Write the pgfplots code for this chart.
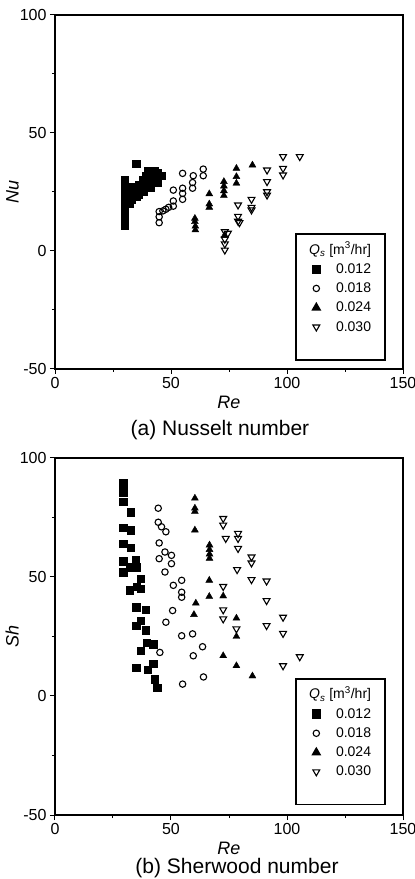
\documentclass[border=0pt]{standalone}
\usepackage{fontspec}
\setmainfont{Liberation Sans}
\usepackage{pgfplots}
\pgfplotsset{compat=1.18}
\pgfplotsset{
 myax/.style={
  anchor=south west,
  scale only axis, width=348pt,
  xmin=0,xmax=150, ymin=-50,ymax=100,
  xtick={0,50,100,150}, ytick={-50,0,50,100},
  minor tick num=1,
  tick align=outside, tick pos=left,
  major tick length=5pt, minor tick length=3pt,
  axis line style={line width=1.4pt},
  every tick/.style={black, line width=1pt},
  tick label style={font=\fontsize{16}{16}\selectfont},
  /pgf/number format/assume math mode=true,
  xlabel style={font=\fontsize{18}{18}\selectfont},
  ylabel style={font=\fontsize{18}{18}\selectfont, yshift=-6pt},
  legend cell align=right,
  legend style={at={(axis cs:103.4,7.6)}, anchor=north west, draw=black, line width=1.8pt,
    fill=white, font=\fontsize{14}{16}\selectfont, inner xsep=12pt, inner ysep=6pt,
    row sep=4pt, column sep=14pt},
 },
 s1/.style={only marks, mark=square*, mark size=3.7pt, black},
 s2/.style={only marks, mark=o, mark size=3.2pt, black, mark options={fill=white, line width=1.1pt}},
 s3/.style={only marks, mark=triangle*, mark size=4pt, black},
 s4/.style={only marks, mark=triangle, mark size=4pt, black, mark options={rotate=180, fill=white, line width=1.1pt}},
}
\newcommand{\legtitle}{\makebox[34pt][r]{\textit{Q}\textsubscript{\textit{s}} [m\textsuperscript{3}/hr]}}
\begin{document}
\begin{tikzpicture}[x=1pt,y=1pt]
\path[use as bounding box] (0pt,0pt) rectangle (415pt,879pt);
% ---------- (a) Nusselt ----------
\begin{axis}[myax, at={(55pt,510pt)}, height=354pt, xlabel={\textit{Re}}, ylabel={\textit{Nu}}]
\addlegendimage{empty legend}\addlegendentry{\legtitle}
\addplot[s1] coordinates {(30,11)(30,13)(30,16)(30,19)(30,22)(30,25)(30,28)(30,30)(31,21)(32,20)(32,24)(33,22)(33,27)(34,25)(35,37)(35,23)(36,24)(36,28)(37,26)(38,30)(38,25)(39,32)(39,28)(40,34)(40,30)(41,27)(42,33)(42,30)(43,34)(43,31)(44,33)(45,32)(44,29)(46,32)};
\addlegendentry{0.012}
\addplot[s2] coordinates {(44.9,12)(44.9,14.5)(44.9,16.7)(46.5,17)(47.8,17.7)(49,18.5)(51,19)(51,21.2)(51,25.8)(55,21.9)(55,24.4)(55,26.6)(55,32.9)(59.3,26.6)(59.3,29)(59.6,31.9)(63.9,31.9)(63.9,34.7)};
\addlegendentry{0.018}
\addplot[s3] coordinates {(60.3,13.8)(60.3,12.4)(60.5,8.9)(60.5,10.5)(66.5,24.2)(66.5,19.9)(66.5,18.5)(72.8,29.4)(72.8,27.5)(72.8,25.5)(72.8,23.5)(73,6.5)(78.2,35)(78.2,31.5)(78.2,28.7)(85.1,36.4)};
\addlegendentry{0.024}
\addplot[s4] coordinates {(73.2,8.2)(73.2,5)(73.2,3)(73.2,0.4)(74.5,7.5)(78.9,19.5)(78.9,14.7)(78.9,12.6)(79.5,12)(84.7,21.9)(84.7,17.4)(84.7,18.5)(91.4,34.3)(91.4,29.4)(91.4,25.1)(91.4,23.7)(98.3,40)(98.3,35)(98.3,32.2)(105.5,40)};
\addlegendentry{0.030}
\addlegendimage{empty legend}\addlegendentry{}
\addlegendimage{empty legend}\addlegendentry{}
\end{axis}
\node[font=\fontsize{21}{21}\selectfont] at (220pt,449pt) {(a) Nusselt number};
% ---------- (b) Sherwood ----------
\begin{axis}[myax, at={(55pt,64pt)}, height=357pt, xlabel={\textit{Re}}, ylabel={\textit{Sh}}]
\addlegendimage{empty legend}\addlegendentry{\legtitle}
\addplot[s1] coordinates {(29.4,89.5)(29.4,87.4)(29.4,85.3)(29.4,81.7)(32.6,77.2)(29.4,70.8)(32.6,69.7)(29.4,64.1)(32.6,62.4)(29.4,56.7)(34.9,57.3)(29.4,52.1)(32.3,54.2)(35.2,54.2)(36.9,49.3)(32.3,44.4)(35.2,45.8)(36.9,45)(35,37.3)(39.2,36.2)(35,29.6)(36.9,31.7)(39.2,27.6)(36.9,19)(39.5,22.5)(42.3,21.8)(42.3,13.6)(35,12)(40,11)(43,7)(44,3.5)};
\addlegendentry{0.012}
\addplot[s2] coordinates {(44.5,78.9)(44.5,73)(45.9,71.1)(47.8,69)(44.9,64.3)(47.4,60.5)(44.9,57.7)(50.2,59.1)(50.2,55.6)(47.4,52.1)(51,46.5)(54.6,48.6)(54.6,43.6)(54.6,41.5)(50.7,35.9)(47.8,31)(54.6,25.3)(59.3,26.1)(63.6,20.7)(59.6,16.9)(45.2,18.3)(55,5)(64,8)};
\addlegendentry{0.018}
\addplot[s3] coordinates {(60.3,83.1)(60.3,78.9)(60.3,77.5)(60.3,69.7)(66.6,63.4)(66.6,61.5)(66.6,59.6)(66.6,57.8)(66.5,48.6)(66.5,41.8)(60.7,39)(59.9,34.2)(72.5,42)(78.2,32.7)(78.2,25)(72.5,16.9)(78.2,12.7)(85.1,8.4)};
\addlegendentry{0.024}
\addplot[s4] coordinates {(72.5,74.6)(72.5,71.8)(73.6,66.2)(78.9,68.3)(78.9,66.2)(78.9,62)(84.7,58.4)(84.7,55.9)(78.5,53.1)(84.7,48.9)(91.2,48.3)(91.2,40.1)(72.5,46)(72.5,36.2)(72.5,32.4)(78.2,28.2)(91.2,29.6)(98.3,33.1)(98.3,26.3)(105.5,16.5)(98.3,12.7)};
\addlegendentry{0.030}
\addlegendimage{empty legend}\addlegendentry{}
\addlegendimage{empty legend}\addlegendentry{}
\end{axis}
\node[font=\fontsize{21}{21}\selectfont] at (237pt,11pt) {(b) Sherwood number};
\end{tikzpicture}
\end{document}
